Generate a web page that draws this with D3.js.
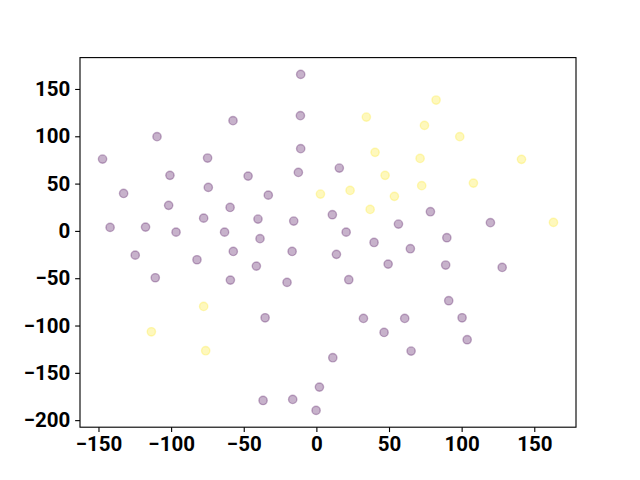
<!DOCTYPE html>
<html>
<head>
<meta charset="utf-8">
<script src="https://cdn.jsdelivr.net/npm/d3@7"></script>
<style>
  body { margin: 0; background: #fff; }
</style>
</head>
<body>
<svg id="chart"></svg>
<script>
// class 0 points (purple)
const purpleX = [-147.2, -142.0, -132.7, -124.7, -117.6, -109.7, -110.9, -100.8, -101.7, -96.6,
  -82.2, -77.6, -74.9, -74.4, -63.2, -57.4, -59.4, -57.2, -59.2, -47.0,
  -40.2, -38.8, -41.3, -33.1, -35.3, -36.7, -20.2, -15.6, -16.7, -16.3,
  -10.8, -11.0, -10.8, -12.4, -0.2, 2.1, 11.0, 11.3, 13.8, 15.8,
  20.5, 22.3, 32.4, 39.7, 46.6, 49.4, 56.5, 60.8, 64.7, 65.2,
  78.5, 89.8, 89.0, 91.1, 100.3, 103.8, 119.8, 127.9]
const purpleY = [75.9, 3.7, 39.6, -25.6, 4.0, 99.6, -49.5, 58.7, 27.0, -1.3,
  -30.5, 13.5, 77.0, 46.0, -1.3, 116.5, 24.8, -21.7, -52.0, 57.9,
  12.5, -8.2, -37.2, 37.8, -91.8, -179.2, -54.4, 10.4, -21.7, -178.1,
  165.4, 121.8, 86.9, 61.8, -189.7, -165.1, 17.1, -134.0, -24.8, 66.4,
  -1.3, -51.6, -92.5, -12.2, -107.3, -35.1, 7.2, -92.5, -18.8, -127.0,
  20.3, -7.2, -36.1, -73.8, -91.8, -115.0, 8.7, -38.6]

// class 1 points (yellow)
const yellowX = [-113.6, -77.6, -76.2, 2.8, 23.2, 34.4, 37.0, 40.4, 47.3, 53.7,
  71.4, 72.5, 74.4, 82.4, 98.7, 108.1, 141.2, 163.2]
const yellowY = [-106.6, -79.8, -126.6, 38.9, 42.8, 120.3, 22.7, 83.0, 58.7, 36.5,
  76.6, 47.8, 111.5, 138.3, 99.6, 50.5, 75.6, 9.0]

const xTicks = [-150, -100, -50, 0, 50, 100, 150]
const yTicks = [-200, -150, -100, -50, 0, 50, 100, 150]

const width = 640
const height = 480
const marginLeft = 80
const marginRight = 64
const marginTop = 57.6
const marginBottom = 52.8
const pt = 100 / 72

const data = [
  ...purpleX.map((x, i) => ({x, y: purpleY[i], c: 0})),
  ...yellowX.map((x, i) => ({x, y: yellowY[i], c: 1}))
]

// matplotlib style 5% padding
function padded(ext) {
  const p = (ext[1] - ext[0]) * 0.05
  return [ext[0] - p, ext[1] + p]
}

const xScale = d3.scaleLinear(padded(d3.extent(data, d => d.x)), [marginLeft, width - marginRight])
const yScale = d3.scaleLinear(padded(d3.extent(data, d => d.y)), [height - marginBottom, marginTop])
const color = c => c === 0 ? '#440154' : '#fde725'

const svg = d3.select('#chart')
  .attr('width', width)
  .attr('height', height)
  .attr('viewBox', [0, 0, width, height])

svg.append('g')
  .selectAll('circle')
  .data(data)
  .join('circle')
    .attr('cx', d => xScale(d.x))
    .attr('cy', d => yScale(d.y))
    .attr('r', 3 * pt)
    .attr('fill', d => color(d.c))
    .attr('fill-opacity', 0.3)
    .attr('stroke', d => color(d.c))
    .attr('stroke-opacity', 0.3)
    .attr('stroke-width', pt)

const xAxis = d3.axisBottom(xScale).tickValues(xTicks).tickSize(3.5 * pt).tickPadding(3.5 * pt)
const yAxis = d3.axisLeft(yScale).tickValues(yTicks).tickSize(3.5 * pt).tickPadding(3.5 * pt)

const styleTicks = g => {
  g.select('.domain').remove()
  g.attr('font-family', 'Roboto, sans-serif')
  g.selectAll('.tick line').attr('stroke-width', 0.8 * pt)
  g.selectAll('.tick text')
    .attr('font-size', 20.5)
    .attr('font-weight', 'bold')
    .attr('fill', '#000')
}

svg.append('g')
  .attr('transform', `translate(0,${height - marginBottom})`)
  .call(xAxis)
  .call(styleTicks)

svg.append('g')
  .attr('transform', `translate(${marginLeft},0)`)
  .call(yAxis)
  .call(styleTicks)

// spines
svg.append('rect')
  .attr('x', marginLeft)
  .attr('y', marginTop)
  .attr('width', width - marginLeft - marginRight)
  .attr('height', height - marginTop - marginBottom)
  .attr('fill', 'none')
  .attr('stroke', '#000')
  .attr('stroke-width', 0.8 * pt)
</script>
</body>
</html>
